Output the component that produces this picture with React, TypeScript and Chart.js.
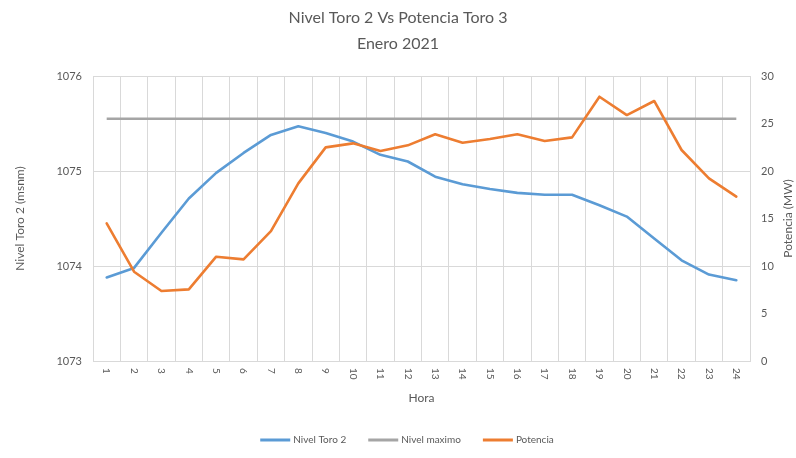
import React, { useEffect, useRef } from "react";
import { Chart, registerables } from "chart.js";

Chart.register(...registerables);

const hours = ["1","2","3","4","5","6","7","8","9","10","11","12","13","14","15","16","17","18","19","20","21","22","23","24"];
const nivelToro2 = [1073.88, 1073.98, 1074.35, 1074.71, 1074.98, 1075.19, 1075.38, 1075.47, 1075.40, 1075.31, 1075.17, 1075.10, 1074.94, 1074.86, 1074.81, 1074.77, 1074.75, 1074.75, 1074.64, 1074.52, 1074.29, 1074.06, 1073.91, 1073.85];
const nivelMaximo = [1075.55, 1075.55, 1075.55, 1075.55, 1075.55, 1075.55, 1075.55, 1075.55, 1075.55, 1075.55, 1075.55, 1075.55, 1075.55, 1075.55, 1075.55, 1075.55, 1075.55, 1075.55, 1075.55, 1075.55, 1075.55, 1075.55, 1075.55, 1075.55];
const potencia = [14.49, 9.40, 7.37, 7.54, 10.98, 10.70, 13.68, 18.70, 22.49, 22.91, 22.10, 22.70, 23.86, 22.98, 23.37, 23.86, 23.16, 23.54, 27.82, 25.89, 27.37, 22.21, 19.23, 17.30];

const titleLines = ["Nivel Toro 2 Vs Potencia Toro 3", "Enero 2021"];
const xTitle = "Hora";
const yLeftTitle = "Nivel Toro 2 (msnm)";
const yRightTitle = "Potencia (MW)";
const seriesNames = ["Nivel Toro 2", "Nivel maximo", "Potencia"];
const seriesColors = ["#5B9BD5", "#A5A5A5", "#ED7D31"];

const FONT = 'Lato, "Open Sans", sans-serif';
const TEXT = "#595959";
const GRID = "#D9D9D9";

const overlay = {
  id: "overlay",
  afterDraw(chart: any) {
    const ctx = chart.ctx;
    const xs = chart.scales.x;
    const area = chart.chartArea;
    ctx.save();
    ctx.fillStyle = TEXT;
    ctx.textAlign = "center";
    ctx.textBaseline = "middle";
    ctx.font = `16px ${FONT}`;
    ctx.fillText(titleLines[0], 398, 18);
    ctx.fillText(titleLines[1], 398, 44);

    ctx.font = `10px ${FONT}`;
    hours.forEach((h, i) => {
      const x = xs.getPixelForValue(i);
      ctx.save();
      ctx.translate(x, area.bottom + 7);
      ctx.rotate(Math.PI / 2);
      ctx.textAlign = "left";
      ctx.textBaseline = "middle";
      ctx.fillText(h, 0, 0);
      ctx.restore();
    });

    ctx.font = `12px ${FONT}`;
    ctx.textAlign = "center";
    ctx.fillText(xTitle, (area.left + area.right) / 2, 398);

    ctx.save();
    ctx.translate(20, (area.top + area.bottom) / 2);
    ctx.rotate(-Math.PI / 2);
    ctx.fillText(yLeftTitle, 0, 0);
    ctx.restore();

    ctx.save();
    ctx.translate(788, (area.top + area.bottom) / 2);
    ctx.rotate(-Math.PI / 2);
    ctx.fillText(yRightTitle, 0, 0);
    ctx.restore();

    // legend
    ctx.font = `10px ${FONT}`;
    const lineW = 30, gap = 3, itemGap = 22;
    const widths = seriesNames.map((n) => lineW + gap + ctx.measureText(n).width);
    const total = widths.reduce((a, b) => a + b, 0) + itemGap * (seriesNames.length - 1);
    let x = 407 - total / 2;
    const ly = 440;
    ctx.textAlign = "left";
    seriesNames.forEach((n, i) => {
      ctx.strokeStyle = seriesColors[i];
      ctx.lineWidth = 3;
      ctx.beginPath();
      ctx.moveTo(x, ly);
      ctx.lineTo(x + lineW, ly);
      ctx.stroke();
      ctx.fillText(n, x + lineW + gap, ly);
      x += widths[i] + itemGap;
    });
    ctx.restore();
  },
};

export default function App() {
  const ref = useRef<HTMLCanvasElement>(null);
  useEffect(() => {
    if (!ref.current) return;
    const chart = new Chart(ref.current, {
      type: "line",
      data: {
        labels: hours,
        datasets: [
          { label: seriesNames[0], data: nivelToro2, yAxisID: "y", borderColor: seriesColors[0], backgroundColor: seriesColors[0], borderWidth: 2.6, pointRadius: 0, order: 3, borderJoinStyle: "round", borderCapStyle: "round" },
          { label: seriesNames[1], data: nivelMaximo, yAxisID: "y", borderColor: seriesColors[1], backgroundColor: seriesColors[1], borderWidth: 2.6, pointRadius: 0, order: 2, borderJoinStyle: "round" },
          { label: seriesNames[2], data: potencia, yAxisID: "y1", borderColor: seriesColors[2], backgroundColor: seriesColors[2], borderWidth: 2.6, pointRadius: 0, order: 1, borderJoinStyle: "round", borderCapStyle: "round" },
        ],
      },
      options: {
        responsive: false,
        animation: false,
        layout: { padding: { top: 76, bottom: 0, left: 0, right: 0 } },
        plugins: { legend: { display: false }, title: { display: false }, tooltip: { enabled: false } },
        scales: {
          x: {
            offset: true,
            grid: { offset: true, color: GRID, drawTicks: false, lineWidth: 1 },
            border: { color: GRID },
            ticks: { display: false },
            afterFit: (s: any) => { s.height = 97; },
          },
          y: {
            position: "left",
            min: 1073,
            max: 1076,
            ticks: { stepSize: 1, padding: 11, color: TEXT, font: { family: FONT, size: 11 }, callback: (v: any) => String(v) },
            grid: { color: GRID, drawTicks: false },
            border: { color: GRID },
            afterFit: (s: any) => { s.width = 93; },
          },
          y1: {
            position: "right",
            min: 0,
            max: 30,
            ticks: { stepSize: 5, padding: 11, color: TEXT, font: { family: FONT, size: 11 }, callback: (v: any) => String(v) },
            grid: { display: false, drawTicks: false },
            border: { color: GRID },
            afterFit: (s: any) => { s.width = 46; },
          },
        },
      },
      plugins: [overlay],
    });
    return () => chart.destroy();
  }, []);
  return (
    <div style={{ position: "absolute", left: 0, top: 0, width: 796, height: 458, background: "#fff" }}>
      <canvas ref={ref} width={796} height={458} style={{ display: "block" }} />
    </div>
  );
}
